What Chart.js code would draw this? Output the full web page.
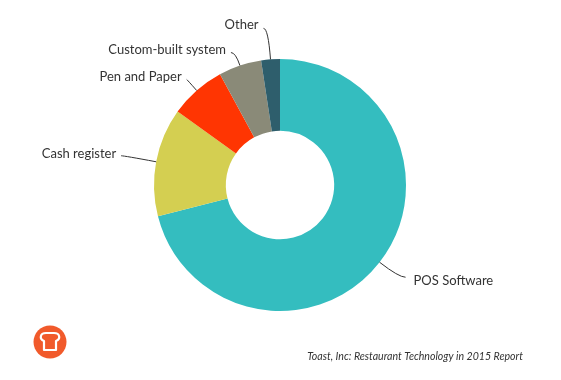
<!DOCTYPE html>
<html lang="en">
<head>
    <meta charset="UTF-8">
    <title>Restaurant Technology 2015</title>
    <script src="https://cdn.jsdelivr.net/npm/chart.js"></script>
    <style>
        html, body { margin: 0; padding: 0; background: #fff; }
        #wrap { width: 561px; height: 380px; position: relative; }
    </style>
</head>
<body>
    <div id="wrap"><canvas id="chart"></canvas></div>
    <script>
        // data (share of restaurants, %)
        const categories = ['POS Software', 'Cash register', 'Pen and Paper', 'Custom-built system', 'Other'];
        const shares = [71.0, 13.9, 7.2, 5.5, 2.4];
        const sliceColors = ['#34bdbf', '#d4cf51', '#ff3502', '#8a8a78', '#2e5e6c'];
        const sourceNote = 'Toast, Inc: Restaurant Technology in 2015 Report';

        // where each leader line ends relative to the slice edge, and text nudge
        const leaderEnds = [[26, 15], [-35, -6], [-10, -11], [-9, -13], [-7, -31]];
        const textNudge = [4, -2, -3, -3, -4];

        const calloutPlugin = {
            id: 'callouts',
            afterDatasetsDraw(chart) {
                const ctx = chart.ctx;
                const arcs = chart.getDatasetMeta(0).data;
                ctx.save();
                ctx.strokeStyle = '#333';
                ctx.lineWidth = 1;
                ctx.fillStyle = '#333';
                ctx.font = '13px Lato';
                ctx.textBaseline = 'middle';
                arcs.forEach((arc, i) => {
                    const mid = (arc.startAngle + arc.endAngle) / 2;
                    const dx = Math.cos(mid), dy = Math.sin(mid);
                    const ax = arc.x + dx * arc.outerRadius;
                    const ay = arc.y + dy * arc.outerRadius;
                    const ex = ax + leaderEnds[i][0];
                    const ey = ay + leaderEnds[i][1];
                    let t = Math.abs(dy) > 0.05 ? (ey - ay) / dy : 0;
                    let cx = ax + dx * t;
                    if (ex < ax) cx = Math.max(cx, ex); else cx = Math.min(cx, ex);
                    ctx.beginPath();
                    ctx.moveTo(ax, ay);
                    ctx.quadraticCurveTo(cx, ey, ex, ey);
                    ctx.stroke();
                    if (ex < ax) {
                        ctx.textAlign = 'right';
                        ctx.fillText(categories[i], ex - 5, ey + textNudge[i]);
                    } else {
                        ctx.textAlign = 'left';
                        ctx.fillText(categories[i], ex + 8, ey + textNudge[i]);
                    }
                });

                // source note
                ctx.font = 'italic 10.6px Lato';
                ctx.textAlign = 'right';
                ctx.fillText(sourceNote, 523, 357);

                // toast logo
                const lx = 50, ly = 342;
                ctx.fillStyle = '#f15a2b';
                ctx.beginPath();
                ctx.arc(lx, ly, 16.5, 0, Math.PI * 2);
                ctx.fill();
                ctx.strokeStyle = '#fff';
                ctx.lineWidth = 2.2;
                ctx.lineJoin = 'round';
                ctx.beginPath();
                ctx.moveTo(lx - 6, ly + 8);
                ctx.lineTo(lx - 6, ly - 1);
                ctx.bezierCurveTo(lx - 11, ly - 3, lx - 10, ly - 9, lx - 4, ly - 9);
                ctx.lineTo(lx + 4, ly - 9);
                ctx.bezierCurveTo(lx + 10, ly - 9, lx + 11, ly - 3, lx + 6, ly - 1);
                ctx.lineTo(lx + 6, ly + 8);
                ctx.closePath();
                ctx.stroke();
                ctx.restore();
            }
        };

        new Chart(document.getElementById('chart'), {
            type: 'doughnut',
            data: {
                labels: categories,
                datasets: [{
                    data: shares,
                    backgroundColor: sliceColors,
                    borderWidth: 0
                }]
            },
            options: {
                responsive: true,
                maintainAspectRatio: false,
                animation: false,
                cutout: '43%',
                layout: { padding: { top: 59, bottom: 69, left: 0, right: 1 } },
                plugins: {
                    legend: { display: false },
                    tooltip: { enabled: false }
                }
            },
            plugins: [calloutPlugin]
        });
    </script>
</body>
</html>
